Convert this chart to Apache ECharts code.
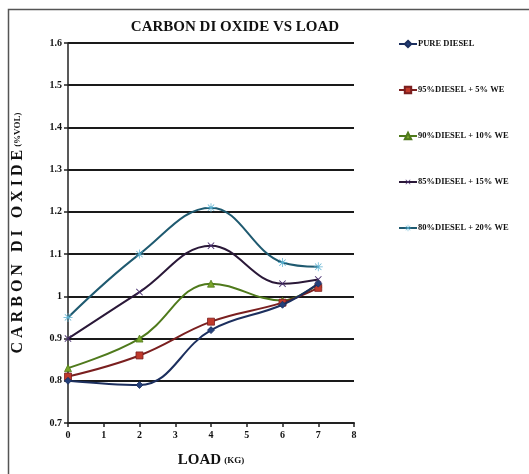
<!DOCTYPE html>
<html><head><meta charset="utf-8">
<script src="https://cdn.jsdelivr.net/npm/echarts@6/dist/echarts.min.js"></script>
<style>html,body{margin:0;padding:0;background:#fff}#c{width:529px;height:474px}</style>
</head><body><div id="c"></div>
<script>
const loads = [0, 2, 4, 6, 7];
const seriesNames = ['PURE DIESEL', '95%DIESEL + 5% WE', '90%DIESEL + 10% WE', '85%DIESEL + 15% WE', '80%DIESEL + 20% WE'];
const pureDiesel = [0.80, 0.79, 0.92, 0.98, 1.03];
const we5 = [0.81, 0.86, 0.94, 0.985, 1.02];
const we10 = [0.83, 0.90, 1.03, 0.99, 1.03];
const we15 = [0.90, 1.01, 1.12, 1.03, 1.04];
const we20 = [0.95, 1.10, 1.21, 1.08, 1.07];
const values = [pureDiesel, we5, we10, we15, we20];

const FONT = "'Liberation Serif', 'DejaVu Serif', serif";
const lineColors = ['#1c2f5e', '#7a1f1f', '#4f7a1c', '#2a1838', '#1f5a70'];
const markColors = ['#24407a', '#c0392b', '#7aa52a', '#4a3070', '#5ab0d0'];
const xPath = 'path://M-1,-10 L1,-10 L1,-1 L10,-1 L10,1 L1,1 L1,10 L-1,10 L-1,1 L-10,1 L-10,-1 L-1,-1 Z';
const starPath = 'path://M-0.8,-10 L0.8,-10 L0.8,-1.9 L6.5,-7.6 L7.6,-6.5 L1.9,-0.8 L10,-0.8 L10,0.8 L1.9,0.8 L7.6,6.5 L6.5,7.6 L0.8,1.9 L0.8,10 L-0.8,10 L-0.8,1.9 L-6.5,7.6 L-7.6,6.5 L-1.9,0.8 L-10,0.8 L-10,-0.8 L-1.9,-0.8 L-7.6,-6.5 L-6.5,-7.6 L-0.8,-1.9 Z';
const symbols = ['diamond', 'rect', 'triangle', xPath, starPath];
const symSizes = [7, 7, 7, 9, 9];
const symRot = [0, 0, 0, 45, 0];

const chart = echarts.init(document.getElementById('c'), null, {renderer: 'canvas'});
chart.setOption({
  animation: false,
  backgroundColor: '#fff',
  graphic: [{
    type: 'rect', left: 6, top: 7, z: -1,
    shape: {width: 540, height: 480},
    style: {fill: 'none', stroke: '#555', lineWidth: 1.5}
  }],
  title: {
    text: 'CARBON DI OXIDE VS LOAD', left: 230, top: 15, textAlign: 'center',
    textStyle: {fontFamily: FONT, fontSize: 15, fontWeight: 'bold', color: '#111'}
  },
  legend: {
    orient: 'vertical', left: 393, top: 34, itemGap: 36, itemWidth: 18, itemHeight: 8,
    data: seriesNames,
    textStyle: {fontFamily: FONT, fontSize: 8.5, lineHeight: 10, fontWeight: 'bold', color: '#111', padding: [0, 0, 0, -4]}
  },
  grid: {left: 68, right: 175, top: 43, bottom: 51},
  xAxis: {
    type: 'value', min: 0, max: 8, interval: 1,
    name: '{a|LOAD} {b|(KG)}', nameLocation: 'middle', nameGap: 30,
    nameTextStyle: {fontFamily: FONT, color: '#111',
      rich: {a: {fontFamily: FONT, fontSize: 15, fontWeight: 'bold', color: '#111'},
             b: {fontFamily: FONT, fontSize: 9, fontWeight: 'bold', color: '#111'}}},
    axisLine: {lineStyle: {color: '#222', width: 2}},
    axisTick: {show: true, length: 4, lineStyle: {color: '#222', width: 1.5}},
    axisLabel: {fontFamily: FONT, fontSize: 10, fontWeight: 'bold', color: '#111', margin: 7},
    splitLine: {show: false}
  },
  yAxis: {
    type: 'value', min: 0.7, max: 1.6, interval: 0.1,
    name: '{a|C A R B O N   D I   O X I D E} {b|(%VOL)}', nameLocation: 'middle', nameGap: 42,
    nameTextStyle: {fontFamily: FONT, color: '#111',
      rich: {a: {fontFamily: FONT, fontSize: 16, fontWeight: 'bold', color: '#111'},
             b: {fontFamily: FONT, fontSize: 9, fontWeight: 'bold', color: '#111'}}},
    axisLine: {show: true, lineStyle: {color: '#222', width: 1.5}},
    axisTick: {show: true, length: 4, lineStyle: {color: '#222', width: 1.5}},
    axisLabel: {fontFamily: FONT, fontSize: 10, fontWeight: 'bold', color: '#111', margin: 6,
      formatter: v => (Math.round(v * 10) / 10).toString()},
    splitLine: {show: true, lineStyle: {color: '#1a1a1a', width: 2}}
  },
  series: seriesNames.map((n, i) => ({
    name: n, type: 'line', smooth: 0.4,
    data: loads.map((x, j) => [x, values[i][j]]),
    symbol: symbols[i], symbolSize: symSizes[i], symbolRotate: symRot[i],
    lineStyle: {color: lineColors[i], width: 2},
    itemStyle: {color: markColors[i], borderColor: lineColors[i], borderWidth: i < 3 ? 0.8 : 0},
    z: 5 - i
  }))
});
</script></body></html>
